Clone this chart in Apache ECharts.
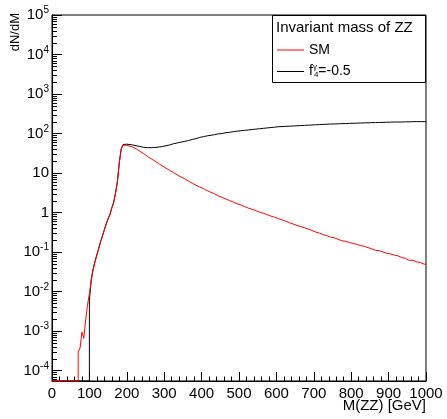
<!DOCTYPE html>
<html><head><meta charset="utf-8">
<script src="https://cdn.jsdelivr.net/npm/echarts@6/dist/echarts.min.js"></script>
<style>html,body{margin:0;padding:0;background:#fff}#c{width:447px;height:419px}</style>
</head><body><div id="c"></div>
<script>
// ---- axes ----
const xMin = 0, xMax = 1000, xInterval = 100;
const yMin = 5.4e-5, yMax = 1e5;
const yTickExponents = [-4, -3, -2, -1, 0, 1, 2, 3, 4, 5];
const yMinorMantissas = [2, 3, 4, 5, 6, 7, 8, 9];
const xTitle = 'M(ZZ) [GeV]';
const yTitle = 'dN/dM';
const legendTitle = 'Invariant mass of ZZ';
const seriesNames = ['SM', 'f_4^γ=-0.5'];

// ---- histogram bins (lower edges, GeV) ----
const massFine = [70,75,80,85,90,95,100,105,110,115,120,125,130,135,140,145,150,155,160,165,170,175,180,185,190,195];
const massCoarse = [200,210,220,230,240,250,260,270,280,290,300,310,320,330,340,350,360,370,380,390,
  400,410,420,430,440,450,460,470,480,490,500,510,520,530,540,550,560,570,580,590,
  600,610,620,630,640,650,660,670,680,690,700,710,720,730,740,750,760,770,780,790,
  800,810,820,830,840,850,860,870,880,890,900,910,920,930,940,950,960,970,980,990];

// ---- SM (red) ----
const smFine = [2.9e-4,3.7e-4,9.3e-4,6.5e-4,1.9e-3,4.5e-3,8.9e-3,0.019,0.035,0.056,0.083,0.12,0.18,0.25,0.36,0.51,0.68,0.87,1.29,1.78,3.1,6.0,18.2,39.8,51,50];
const smCoarse = [50.1,45.7,40.7,35.5,30.9,26.3,22.9,20.0,17.4,15.1,13.2,11.5,10.2,8.9,7.9,7.1,6.2,5.5,4.9,4.4,
  4.0,3.55,3.24,2.95,2.63,2.40,2.19,2.00,1.82,1.66,1.55,1.41,1.29,1.20,1.11,1.02,0.955,0.88,0.81,0.76,
  0.70,0.65,0.60,0.55,0.51,0.47,0.44,0.41,0.38,0.35,0.32,0.30,0.275,0.257,0.237,0.228,0.209,0.192,0.186,0.174,
  0.164,0.155,0.145,0.139,0.129,0.120,0.110,0.107,0.100,0.093,0.089,0.083,0.080,0.072,0.069,0.061,0.062,0.056,0.054,0.049];

// ---- f4 = -0.5 (black) ----
const f4Fine = [0,0,0,0,0,0,0.0059,0.021,0.037,0.058,0.086,0.125,0.185,0.26,0.37,0.52,0.70,0.90,1.32,1.83,3.2,6.2,18.8,41.0,52.5,53.5];
const f4Coarse = [53.7,51.3,49.0,46.8,44.7,43.7,43.7,44.2,45.2,46.8,49.0,51.3,55.0,57.5,60.3,63.1,66.1,70.8,74.1,79.4,
  83.2,87.1,90.2,93.3,97.7,100,104.7,107.2,110.9,114.8,117.5,120.2,123.0,125.9,128.8,131.8,134.9,138.0,141.3,144.5,
  147.9,149.6,151.4,153.1,154.9,156.7,158.5,160.3,162.2,164.1,166.0,167.9,169.8,171.8,173.8,173.8,175.8,177.8,177.8,179.9,
  182.0,182.0,184.1,186.2,186.2,188.4,188.4,190.5,190.5,192.8,192.8,195.0,195.0,195.0,197.2,197.2,199.5,199.5,199.5,199.5];

const FONT = "'Liberation Sans', Arial, Helvetica, sans-serif";
const coarseWidth = massCoarse[1] - massCoarse[0];

// low-mass part: drawn as a step histogram (empty bins lie on the lower frame, as ROOT draws them)
function fineData(fine, coarse) {
  const pts = [[xMin, 0]];
  massFine.forEach((m, i) => pts.push([m, fine[i]]));
  pts.push([massCoarse[0], coarse[0]]);
  return pts.map(p => [p[0], p[1] > 0 ? p[1] : yMin]);
}
// high-mass part: many narrow bins, drawn through bin centres
function coarseData(coarse) {
  const pts = [[massCoarse[0], coarse[0]]];
  massCoarse.forEach((m, i) => pts.push([m + coarseWidth / 2, coarse[i]]));
  pts.push([xMax, coarse[coarse.length - 1]]);
  return pts;
}

const minorTickValues = [];
yTickExponents.concat([-5]).forEach(e => yMinorMantissas.forEach(m => {
  const v = m * Math.pow(10, e);
  if (v > yMin && v < yMax) minorTickValues.push(v);
}));

function lineSeries(name, data, color, step, z) {
  return {name: name, type: 'line', step: step, data: data, showSymbol: false, symbol: 'none',
    clip: false, z: z, lineStyle: {color: color, width: 1}, itemStyle: {color: color}};
}

const chart = echarts.init(document.getElementById('c'), null, {renderer: 'canvas'});
chart.setOption({
  animation: false,
  backgroundColor: '#fff',
  textStyle: {fontFamily: FONT},
  grid: {left: 52, right: 21, top: 15, bottom: 38, show: true, borderColor: '#000', borderWidth: 1, backgroundColor: 'transparent'},
  title: {text: legendTitle, left: 276, top: 20, padding: 0,
    textStyle: {fontFamily: FONT, fontSize: 15, fontWeight: 'normal', color: '#000'}},
  legend: {
    orient: 'vertical', left: 277, top: 42, padding: 0, itemGap: 5,
    itemWidth: 27, itemHeight: 1, icon: 'rect',
    data: seriesNames,
    formatter: function (n) {
      if (n === 'SM') return '{t|SM}';
      return '{t|f}{sup|γ}{sub|4}{t|=-0.5}';
    },
    textStyle: {fontFamily: FONT, fontSize: 14, color: '#000', lineHeight: 16,
      rich: {
        t: {fontFamily: FONT, fontSize: 14, color: '#000', lineHeight: 16},
        sup: {fontFamily: FONT, fontSize: 8, color: '#000', width: 1, padding: [0, 0, 9, 0]},
        sub: {fontFamily: FONT, fontSize: 8, color: '#000', padding: [7, 0, 0, 0]}
      }}
  },
  graphic: [
    {type: 'rect', z: 3, shape: {x: 272.5, y: 15.5, width: 153, height: 67},
     style: {fill: '#fff', stroke: '#000', lineWidth: 1}},
    {type: 'text', z: 5, x: 15, y: 13, rotation: Math.PI / 2,
     style: {text: yTitle, font: '13px ' + FONT, fill: '#000', align: 'right', verticalAlign: 'middle'}},
    {type: 'text', z: 5, right: 21, top: 398,
     style: {text: xTitle, font: '15px ' + FONT, fill: '#000'}}
  ],
  xAxis: {
    type: 'value', min: xMin, max: xMax, interval: xInterval,
    axisLine: {show: true, onZero: false, lineStyle: {color: '#000', width: 1}},
    axisTick: {show: true, inside: true, length: 9, lineStyle: {color: '#000'}},
    minorTick: {show: true, splitNumber: 5, length: 4.5, lineStyle: {color: '#000'}},
    splitLine: {show: false},
    axisLabel: {color: '#000', fontSize: 15, fontFamily: FONT, margin: 5, showMinLabel: true, showMaxLabel: true,
      formatter: function (v) { return String(v); }}
  },
  yAxis: {
    type: 'log', logBase: 10, min: yMin, max: yMax,
    axisLine: {show: true, lineStyle: {color: '#000', width: 1}},
    axisTick: {show: true, inside: true, length: 10, lineStyle: {color: '#000'}},
    minorTick: {show: false},
    splitLine: {show: false},
    axisLabel: {
      color: '#000', margin: 3, fontFamily: FONT, fontSize: 15,
      formatter: function (v) {
        const l = Math.log10(v), e = Math.round(l);
        if (Math.abs(l - e) > 1e-6 || yTickExponents.indexOf(e) < 0) return '';
        if (e === 0) return '{b|1}';
        if (e === 1) return '{b|10}';
        return '{b|10}{s|' + e + '}';
      },
      rich: {
        b: {fontFamily: FONT, fontSize: 15, color: '#000'},
        s: {fontFamily: FONT, fontSize: 10, color: '#000', padding: [0, 0, 9, 0]}
      }
    }
  },
  series: [
    lineSeries(seriesNames[1], fineData(f4Fine, f4Coarse), '#000', 'end', 2),
    lineSeries(seriesNames[1], coarseData(f4Coarse), '#000', false, 2),
    lineSeries(seriesNames[0], fineData(smFine, smCoarse), '#ff0000', 'end', 3),
    lineSeries(seriesNames[0], coarseData(smCoarse), '#ff0000', false, 3),
    {type: 'custom', name: 'yMinorTicks', silent: true, clip: false, z: 4,
     data: minorTickValues.map(v => [xMin, v]),
     renderItem: function (params, api) {
       const p = api.coord([api.value(0), api.value(1)]);
       const y = Math.round(p[1]) + 0.5;
       return {type: 'line', shape: {x1: p[0], y1: y, x2: p[0] + 5, y2: y},
               style: {stroke: '#000', lineWidth: 1}};
     }}
  ]
});
</script></body></html>
